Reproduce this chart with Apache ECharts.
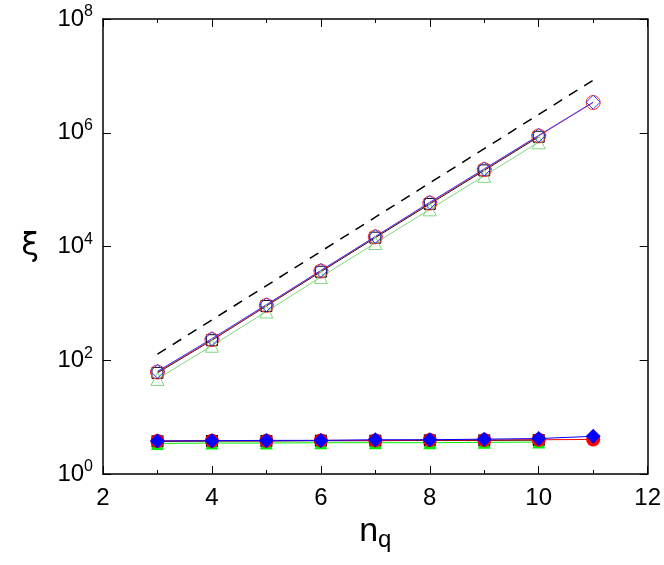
<!DOCTYPE html>
<html>
<head>
<meta charset="utf-8">
<script src="https://cdn.jsdelivr.net/npm/echarts@6/dist/echarts.min.js"></script>
<style>
  html, body { margin: 0; padding: 0; background: #fff; }
  #chart { width: 664px; height: 565px; }
</style>
</head>
<body>
<div id="chart"></div>
<script>
// n_q values
const nq = [3, 4, 5, 6, 7, 8, 9, 10, 11];

// upper family (open markers)
const blackOpen = [60, 225, 900, 3600, 14300, 56000, 218000, 850000];
const greenOpen = [47, 180, 720, 2900, 11500, 45000, 175000, 680000];
const redOpen = [62, 230, 920, 3700, 14800, 58000, 225000, 880000, 3.4e6];
const blueOpen = [64, 240, 950, 3800, 15000, 60000, 232000, 900000, 3.45e6];

// lower family (filled markers)
const blackFill = [3.75, 3.8, 3.8, 3.85, 3.85, 3.9, 3.9, 3.95];
const greenFill = [3.45, 3.5, 3.5, 3.55, 3.55, 3.55, 3.6, 3.65];
const redFill = [3.8, 3.85, 3.85, 3.9, 3.9, 3.95, 3.95, 4.0, 4.05];
const blueFill = [3.8, 3.85, 3.9, 3.9, 4.0, 4.0, 4.1, 4.2, 4.6];

// dashed reference line (end points)
const refX = [3, 11];
const refY = [128, 8.4e6];

const pairs = (ys, xs = nq) => ys.map((v, i) => [xs[i], v]);

const chart = echarts.init(document.getElementById('chart'));

function openSeries(name, data, color, symbol, size) {
  return {
    name, type: 'line', data: pairs(data), symbol, symbolSize: size,
    lineStyle: { color, width: 1 },
    itemStyle: { color: 'rgba(0,0,0,0)', borderColor: color, borderWidth: 1 },
    z: 3
  };
}
function fillSeries(name, data, color, symbol, size) {
  return {
    name, type: 'line', data: pairs(data), symbol, symbolSize: size,
    lineStyle: { color, width: 1 },
    itemStyle: { color, borderWidth: 0 },
    z: 3
  };
}

const tickFont = { fontSize: 24, color: '#000', fontFamily: 'Liberation Sans' };

const option = {
  animation: false,
  grid: { left: 103, right: 16, top: 19, bottom: 91 },
  xAxis: [
    {
      type: 'value', min: 2, max: 12, interval: 2,
      name: 'n{sub|q}', nameLocation: 'middle', nameGap: 38,
      nameTextStyle: {
        fontSize: 34, color: '#000', fontFamily: 'Liberation Sans',
        rich: { sub: { fontSize: 24, verticalAlign: 'bottom', padding: [16, 0, 0, 0], fontFamily: 'Liberation Sans' } }
      },
      axisLine: { lineStyle: { color: '#000', width: 1.5 } },
      axisTick: { inside: true, length: 8, lineStyle: { color: '#000' } },
      minorTick: { show: true, splitNumber: 2, length: 4, lineStyle: { color: '#000' } },
      axisLabel: Object.assign({ margin: 12 }, tickFont),
      splitLine: { show: false }
    },
    {
      type: 'value', min: 2, max: 12, interval: 2, position: 'top',
      axisLine: { lineStyle: { color: '#000', width: 1.5 } },
      axisTick: { inside: true, length: 8, lineStyle: { color: '#000' } },
      minorTick: { show: true, splitNumber: 2, length: 4, lineStyle: { color: '#000' } },
      axisLabel: { show: false },
      splitLine: { show: false }
    }
  ],
  yAxis: [
    {
      type: 'log', logBase: 10, min: 1, max: 1e8, interval: 2,
      name: 'ξ', nameLocation: 'middle', nameGap: 64, nameRotate: 0,
      nameTextStyle: { fontSize: 32, color: '#000', fontFamily: 'DejaVu Sans' },
      axisLine: { lineStyle: { color: '#000', width: 1.5 } },
      axisTick: { inside: true, length: 8, lineStyle: { color: '#000' } },
      axisLabel: Object.assign({
        margin: 10,
        formatter: v => '10{sup|' + Math.round(Math.log10(v)) + '}',
        rich: { sup: { fontSize: 16, verticalAlign: 'top', padding: [0, 0, 14, 0], fontFamily: 'Liberation Sans' } }
      }, tickFont),
      splitLine: { show: false }
    },
    {
      type: 'log', logBase: 10, min: 1, max: 1e8, interval: 2, position: 'right',
      axisLine: { lineStyle: { color: '#000', width: 1.5 } },
      axisTick: { inside: true, length: 8, lineStyle: { color: '#000' } },
      axisLabel: { show: false },
      splitLine: { show: false }
    }
  ],
  series: [
    {
      name: 'ref', type: 'line', data: pairs(refY, refX), symbol: 'none',
      lineStyle: { color: '#000', width: 1.5, type: [10, 8] }, z: 2
    },
    openSeries('black open', blackOpen, '#000000', 'rect', 11),
    openSeries('green open', greenOpen, '#7fd67f', 'triangle', 13),
    openSeries('red open', redOpen, '#ff3030', 'circle', 14),
    openSeries('blue open', blueOpen, '#3a3aff', 'diamond', 14),
    fillSeries('black fill', blackFill, '#000000', 'rect', 12),
    fillSeries('green fill', greenFill, '#00ee00', 'triangle', 13),
    fillSeries('red fill', redFill, '#ff0000', 'circle', 14),
    fillSeries('blue fill', blueFill, '#0000ff', 'diamond', 15)
  ]
};

chart.setOption(option);
window.addEventListener('resize', () => chart.resize());
</script>
</body>
</html>
